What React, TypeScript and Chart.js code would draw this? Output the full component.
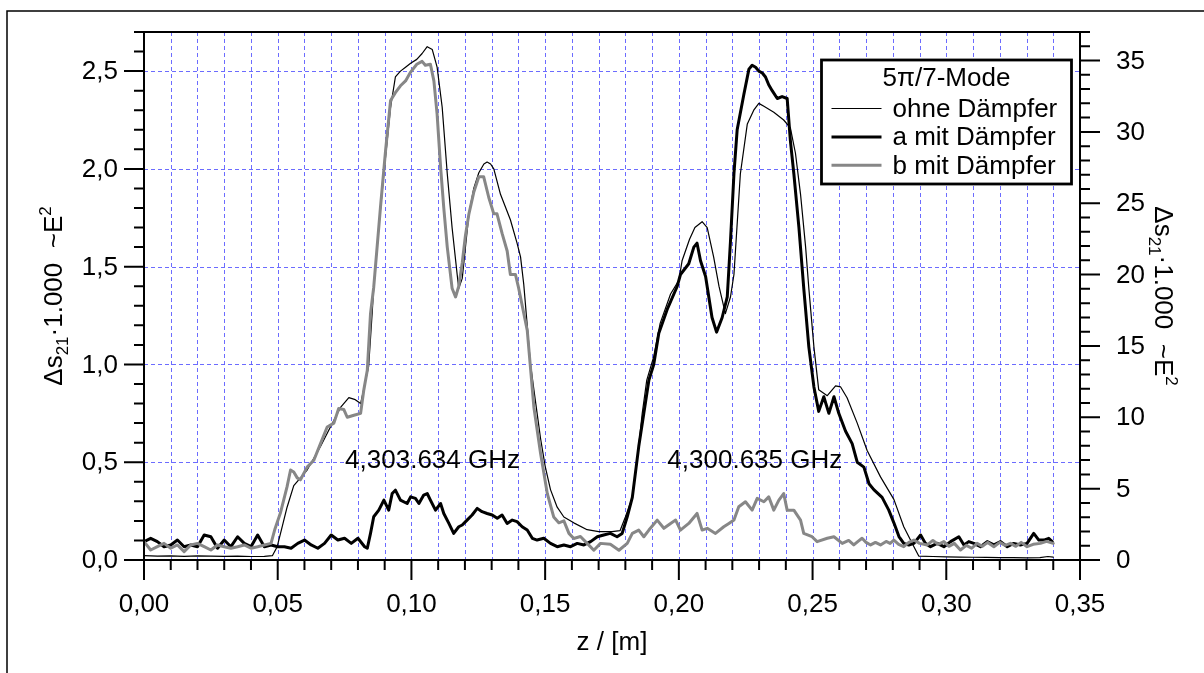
import React, { useEffect, useRef } from "react";
import { Chart, registerables } from "chart.js";

Chart.register(...registerables);

// ---------------- data (z in m, values in left-axis units) ----------------
const ohneZ = [0, 0.005, 0.01, 0.015, 0.02, 0.025, 0.03, 0.035, 0.04, 0.045, 0.048, 0.0498, 0.0515, 0.0535, 0.056, 0.061, 0.066, 0.0697, 0.0735, 0.0766, 0.079, 0.081, 0.084, 0.0853, 0.0859, 0.0878, 0.0897, 0.0922, 0.094, 0.0959, 0.0978, 0.0997, 0.102, 0.104, 0.1059, 0.1078, 0.1096, 0.1115, 0.1134, 0.1152, 0.1171, 0.1177, 0.119, 0.1202, 0.1215, 0.1233, 0.1252, 0.1271, 0.1283, 0.1296, 0.1308, 0.1333, 0.137, 0.1395, 0.1408, 0.142, 0.1433, 0.1445, 0.1458, 0.147, 0.1483, 0.15, 0.152, 0.1545, 0.157, 0.1607, 0.1657, 0.17, 0.175, 0.178, 0.18, 0.1826, 0.1844, 0.1863, 0.188, 0.1906, 0.193, 0.1969, 0.2, 0.2012, 0.204, 0.206, 0.2087, 0.2106, 0.213, 0.215, 0.2174, 0.2193, 0.2206, 0.223, 0.2256, 0.228, 0.2299, 0.2318, 0.2355, 0.2392, 0.2417, 0.2436, 0.2455, 0.2474, 0.2486, 0.2505, 0.2523, 0.2555, 0.2586, 0.2605, 0.2629, 0.2667, 0.2704, 0.2754, 0.2804, 0.2841, 0.2879, 0.2897, 0.295, 0.3, 0.305, 0.31, 0.315, 0.32, 0.325, 0.33, 0.335, 0.338, 0.34];
const ohneV = [0.022, 0.02, 0.021, 0.019, 0.021, 0.02, 0.019, 0.02, 0.018, 0.019, 0.022, 0.068, 0.16, 0.27, 0.38, 0.46, 0.58, 0.68, 0.78, 0.83, 0.82, 0.8, 0.99, 1.26, 1.39, 1.7, 1.975, 2.315, 2.47, 2.5, 2.52, 2.54, 2.56, 2.59, 2.625, 2.61, 2.52, 2.315, 1.975, 1.7, 1.46, 1.39, 1.44, 1.6, 1.77, 1.9, 1.98, 2.025, 2.035, 2.025, 2.0, 1.87, 1.74, 1.62, 1.55, 1.41, 1.2, 1.005, 0.87, 0.75, 0.62, 0.48, 0.36, 0.27, 0.22, 0.19, 0.155, 0.145, 0.145, 0.15, 0.22, 0.32, 0.51, 0.75, 0.92, 1.04, 1.21, 1.36, 1.43, 1.53, 1.64, 1.7, 1.73, 1.7, 1.55, 1.4, 1.26, 1.345, 1.46, 1.975, 2.23, 2.3, 2.335, 2.32, 2.29, 2.25, 2.21, 2.08, 1.87, 1.6, 1.39, 1.09, 0.87, 0.84, 0.89, 0.885, 0.83, 0.7, 0.56, 0.425, 0.31, 0.17, 0.068, 0.02, 0.018, 0.016, 0.015, 0.014, 0.013, 0.012, 0.012, 0.011, 0.012, 0.018, 0.015];

const aZ = [0, 0.0025, 0.005, 0.0075, 0.01, 0.0125, 0.015, 0.0175, 0.02, 0.0225, 0.025, 0.0275, 0.03, 0.0325, 0.035, 0.0375, 0.04, 0.0425, 0.045, 0.0475, 0.05, 0.0525, 0.055, 0.0575, 0.06, 0.0625, 0.065, 0.0675, 0.07, 0.0725, 0.075, 0.0775, 0.08, 0.0825, 0.0835, 0.0847, 0.0859, 0.0878, 0.0897, 0.0915, 0.0928, 0.094, 0.0959, 0.0984, 0.0997, 0.1015, 0.1028, 0.1046, 0.1059, 0.1071, 0.109, 0.1109, 0.1121, 0.114, 0.1158, 0.1177, 0.119, 0.1208, 0.1227, 0.1246, 0.1264, 0.1283, 0.1302, 0.1321, 0.1339, 0.1358, 0.1377, 0.1395, 0.1414, 0.1433, 0.1452, 0.147, 0.1495, 0.152, 0.1545, 0.157, 0.1595, 0.162, 0.1645, 0.167, 0.1695, 0.1719, 0.1744, 0.1769, 0.1788, 0.1807, 0.1826, 0.185, 0.1869, 0.1888, 0.1906, 0.1925, 0.1956, 0.1994, 0.2006, 0.2037, 0.2056, 0.2068, 0.2081, 0.21, 0.2124, 0.2141, 0.2162, 0.2181, 0.2193, 0.2206, 0.2218, 0.2243, 0.2262, 0.2274, 0.2287, 0.2299, 0.2312, 0.2324, 0.2336, 0.2349, 0.2368, 0.2386, 0.2405, 0.2417, 0.243, 0.2449, 0.2467, 0.2486, 0.2505, 0.2523, 0.2542, 0.2561, 0.258, 0.2598, 0.2623, 0.2648, 0.2667, 0.2692, 0.2711, 0.2729, 0.276, 0.2785, 0.2804, 0.2823, 0.2841, 0.286, 0.2879, 0.2904, 0.2922, 0.2941, 0.2966, 0.2991, 0.3016, 0.3047, 0.3066, 0.3084, 0.3103, 0.3128, 0.3153, 0.3178, 0.3203, 0.3228, 0.3252, 0.3277, 0.3302, 0.3327, 0.3346, 0.3365, 0.3383, 0.3396];
const aV = [0.094, 0.111, 0.094, 0.068, 0.077, 0.102, 0.068, 0.077, 0.068, 0.128, 0.119, 0.06, 0.102, 0.068, 0.119, 0.085, 0.068, 0.128, 0.068, 0.077, 0.068, 0.068, 0.06, 0.085, 0.102, 0.077, 0.06, 0.085, 0.128, 0.102, 0.111, 0.085, 0.111, 0.068, 0.06, 0.136, 0.221, 0.255, 0.306, 0.255, 0.34, 0.357, 0.306, 0.289, 0.323, 0.315, 0.289, 0.332, 0.34, 0.306, 0.255, 0.289, 0.238, 0.187, 0.136, 0.17, 0.179, 0.204, 0.23, 0.264, 0.247, 0.238, 0.23, 0.213, 0.23, 0.187, 0.204, 0.196, 0.17, 0.153, 0.111, 0.102, 0.111, 0.085, 0.068, 0.077, 0.068, 0.085, 0.077, 0.094, 0.119, 0.128, 0.136, 0.119, 0.136, 0.221, 0.32, 0.58, 0.75, 0.92, 1.0, 1.16, 1.28, 1.4, 1.46, 1.515, 1.6, 1.62, 1.53, 1.45, 1.24, 1.165, 1.24, 1.345, 1.63, 1.975, 2.2, 2.38, 2.51, 2.53, 2.52, 2.5, 2.49, 2.47, 2.43, 2.4, 2.36, 2.37, 2.36, 2.145, 1.975, 1.7, 1.39, 1.09, 0.885, 0.76, 0.835, 0.75, 0.835, 0.75, 0.66, 0.595, 0.5, 0.475, 0.39, 0.36, 0.32, 0.255, 0.19, 0.12, 0.085, 0.077, 0.085, 0.128, 0.085, 0.068, 0.085, 0.068, 0.094, 0.119, 0.077, 0.094, 0.085, 0.068, 0.094, 0.077, 0.094, 0.068, 0.085, 0.077, 0.085, 0.136, 0.102, 0.102, 0.111, 0.094];

const bZ = [0, 0.0025, 0.005, 0.0075, 0.01, 0.0125, 0.015, 0.0175, 0.02, 0.0225, 0.025, 0.0275, 0.03, 0.0325, 0.035, 0.0375, 0.04, 0.0425, 0.045, 0.0475, 0.049, 0.051, 0.0535, 0.0548, 0.056, 0.0573, 0.0585, 0.061, 0.0635, 0.066, 0.0685, 0.071, 0.0728, 0.0747, 0.076, 0.0785, 0.081, 0.0822, 0.0835, 0.0847, 0.0859, 0.0884, 0.0903, 0.0922, 0.094, 0.0959, 0.0978, 0.0997, 0.102, 0.104, 0.1052, 0.1071, 0.1084, 0.1096, 0.1109, 0.1121, 0.1134, 0.1152, 0.1165, 0.1177, 0.119, 0.1202, 0.1215, 0.1233, 0.1252, 0.127, 0.1289, 0.1308, 0.132, 0.1339, 0.1358, 0.137, 0.1389, 0.1401, 0.1433, 0.1458, 0.1483, 0.1508, 0.1532, 0.1551, 0.157, 0.1589, 0.1607, 0.1632, 0.1657, 0.1682, 0.1707, 0.1744, 0.1776, 0.1807, 0.1826, 0.185, 0.1869, 0.1888, 0.1919, 0.1944, 0.1969, 0.1988, 0.2006, 0.2037, 0.2068, 0.2087, 0.2106, 0.2137, 0.2168, 0.2187, 0.2206, 0.2224, 0.2249, 0.2274, 0.2293, 0.2318, 0.2336, 0.2355, 0.2374, 0.2392, 0.2405, 0.243, 0.2455, 0.2467, 0.2498, 0.2517, 0.2555, 0.258, 0.2611, 0.2635, 0.2654, 0.267, 0.2685, 0.27, 0.2717, 0.2735, 0.2754, 0.2775, 0.279, 0.2804, 0.2822, 0.2841, 0.286, 0.2879, 0.29, 0.2929, 0.295, 0.297, 0.2991, 0.301, 0.303, 0.3053, 0.3075, 0.3095, 0.3115, 0.3135, 0.3155, 0.3178, 0.32, 0.322, 0.324, 0.326, 0.328, 0.3302, 0.3325, 0.3352, 0.3375, 0.34];
const bV = [0.094, 0.051, 0.068, 0.085, 0.06, 0.077, 0.043, 0.077, 0.085, 0.068, 0.051, 0.077, 0.068, 0.06, 0.068, 0.077, 0.06, 0.068, 0.077, 0.085, 0.16, 0.24, 0.375, 0.46, 0.45, 0.42, 0.41, 0.475, 0.51, 0.595, 0.68, 0.7, 0.775, 0.77, 0.73, 0.74, 0.75, 0.87, 0.97, 1.26, 1.395, 1.8, 2.09, 2.35, 2.39, 2.425, 2.45, 2.495, 2.535, 2.55, 2.53, 2.535, 2.45, 2.28, 2.01, 1.8, 1.6, 1.39, 1.345, 1.4, 1.52, 1.66, 1.77, 1.88, 1.96, 1.96, 1.855, 1.77, 1.77, 1.67, 1.58, 1.46, 1.46, 1.39, 1.175, 0.78, 0.545, 0.34, 0.22, 0.19, 0.2, 0.136, 0.11, 0.12, 0.085, 0.05, 0.085, 0.08, 0.05, 0.085, 0.136, 0.153, 0.119, 0.153, 0.204, 0.162, 0.187, 0.204, 0.153, 0.187, 0.238, 0.153, 0.162, 0.136, 0.17, 0.187, 0.204, 0.272, 0.298, 0.255, 0.315, 0.298, 0.323, 0.255, 0.306, 0.34, 0.255, 0.255, 0.204, 0.136, 0.119, 0.094, 0.111, 0.119, 0.085, 0.1, 0.077, 0.095, 0.111, 0.09, 0.077, 0.09, 0.077, 0.095, 0.085, 0.102, 0.08, 0.068, 0.09, 0.102, 0.085, 0.077, 0.1, 0.08, 0.094, 0.07, 0.085, 0.051, 0.075, 0.06, 0.085, 0.07, 0.09, 0.068, 0.09, 0.075, 0.085, 0.07, 0.09, 0.068, 0.08, 0.085, 0.095, 0.085];

const seriesLabels = ["ohne Dämpfer", "a mit Dämpfer", "b mit Dämpfer"];
const legendTitle = "5π/7-Mode";

const xTickValues = [0, 0.05, 0.1, 0.15, 0.2, 0.25, 0.3, 0.35];
const yTickValues = [0, 0.5, 1.0, 1.5, 2.0, 2.5];
const y1TickValues = [0, 5, 10, 15, 20, 25, 30, 35];
const xTitle = "z / [m]";
const yTitleParts = [
  { text: "Δs", sub: 0 },
  { text: "21", sub: 1 },
  { text: "·1.000  ~E", sub: 0 },
  { text: "2", sub: -1 },
];
const annotationTexts = ["4,303.634 GHz", "4,300.635 GHz"];
const annotationZ = [0.1079, 0.2284];
const annotationV = [0.47, 0.47];

// ---------------- styling ----------------
const FF = "'Liberation Sans', Arial, Helvetica, sans-serif";
const FS = 26;
const GRID = "rgba(92, 92, 255, 0.9)";

function pts(zs: number[], vs: number[]) {
  return zs.map((z, i) => ({ x: z, y: vs[i] }));
}

function drawRich(ctx: CanvasRenderingContext2D, x: number, y: number, angle: number) {
  ctx.save();
  ctx.translate(x, y);
  ctx.rotate(angle);
  const sized = yTitleParts.map((p) => ({ ...p, size: p.sub === 0 ? FS : 17 }));
  let total = 0;
  for (const p of sized) {
    ctx.font = `${p.size}px ${FF}`;
    total += ctx.measureText(p.text).width;
  }
  let cx = -total / 2;
  ctx.textAlign = "left";
  ctx.textBaseline = "alphabetic";
  ctx.fillStyle = "#000";
  for (const p of sized) {
    ctx.font = `${p.size}px ${FF}`;
    const dy = p.sub === 1 ? 6 : p.sub === -1 ? -11 : 0;
    ctx.fillText(p.text, cx, dy);
    cx += ctx.measureText(p.text).width;
  }
  ctx.restore();
}

const fmt = (v: number, d: number) => v.toFixed(d).replace(".", ",");

const customPlugin = {
  id: "customDraw",
  beforeDatasetsDraw(chart: any) {
    const { ctx, chartArea: ca, scales } = chart;
    const xs = scales.x;
    const ys = scales.y;
    ctx.save();
    ctx.strokeStyle = GRID;
    ctx.lineWidth = 1;
    ctx.setLineDash([4, 3]);
    for (let i = 1; i < 35; i++) {
      const px = Math.round(xs.getPixelForValue(i / 100)) + 0.5;
      ctx.beginPath();
      ctx.moveTo(px, ca.top);
      ctx.lineTo(px, ca.bottom);
      ctx.stroke();
    }
    for (let i = 1; i <= 5; i++) {
      const py = Math.round(ys.getPixelForValue(i * 0.5)) + 0.5;
      ctx.beginPath();
      ctx.moveTo(ca.left, py);
      ctx.lineTo(ca.right, py);
      ctx.stroke();
    }
    ctx.restore();
  },
  afterDraw(chart: any) {
    const { ctx, chartArea: ca, scales } = chart;
    const xs = scales.x;
    const ys = scales.y;
    const y1s = scales.y1;
    ctx.save();
    ctx.setLineDash([]);
    ctx.strokeStyle = "#000";
    ctx.fillStyle = "#000";

    // outer frame (left and top visible)
    ctx.lineWidth = 1.5;
    ctx.beginPath();
    ctx.moveTo(7, chart.height);
    ctx.lineTo(7, 11);
    ctx.lineTo(chart.width, 11);
    ctx.stroke();

    // axis frame
    ctx.lineWidth = 2;
    ctx.beginPath();
    ctx.moveTo(ca.left, ca.bottom);
    ctx.lineTo(ca.left, ca.top);
    ctx.lineTo(ca.right, ca.top);
    ctx.lineTo(ca.right, ca.bottom);
    ctx.lineTo(ca.left, ca.bottom);
    ctx.stroke();

    // ticks
    ctx.beginPath();
    for (let i = 0; i <= 27; i++) {
      const py = ys.getPixelForValue(i / 10);
      const len = i % 5 === 0 ? 20 : 10;
      ctx.moveTo(ca.left - len, py);
      ctx.lineTo(ca.left, py);
    }
    for (let i = 0; i <= 37; i++) {
      const py = y1s.getPixelForValue(i);
      const len = i % 5 === 0 ? 20 : 10;
      ctx.moveTo(ca.right, py);
      ctx.lineTo(ca.right + len, py);
    }
    for (let i = 0; i <= 35; i++) {
      const px = xs.getPixelForValue(i / 100);
      const len = i % 5 === 0 ? 20 : 10;
      ctx.moveTo(px, ca.bottom);
      ctx.lineTo(px, ca.bottom + len);
    }
    ctx.stroke();

    // tick labels
    ctx.font = `${FS}px ${FF}`;
    ctx.textBaseline = "middle";
    ctx.textAlign = "right";
    for (const v of yTickValues) ctx.fillText(fmt(v, 1), ca.left - 26, ys.getPixelForValue(v) + 1);
    ctx.textAlign = "left";
    for (const v of y1TickValues) ctx.fillText(String(v), ca.right + 36, y1s.getPixelForValue(v) + 1);
    ctx.textAlign = "center";
    ctx.textBaseline = "alphabetic";
    for (const v of xTickValues) ctx.fillText(fmt(v, 2), xs.getPixelForValue(v), ca.bottom + 52);

    // axis titles
    ctx.fillText(xTitle, (ca.left + ca.right) / 2, ca.bottom + 90);
    const midY = (ca.top + ca.bottom) / 2;
    drawRich(ctx, 62, midY, -Math.PI / 2);
    drawRich(ctx, ca.right + 75, midY, Math.PI / 2);

    // annotations
    ctx.font = `${FS}px ${FF}`;
    ctx.textAlign = "center";
    ctx.textBaseline = "alphabetic";
    annotationTexts.forEach((t, i) => {
      ctx.fillText(t, xs.getPixelForValue(annotationZ[i]), ys.getPixelForValue(annotationV[i]));
    });

    // legend
    const lx = 821.5, ly = 60, lw = 250, lh = 124;
    ctx.fillStyle = "#fff";
    ctx.fillRect(lx, ly, lw, lh);
    ctx.lineWidth = 2.8;
    ctx.strokeStyle = "#000";
    ctx.strokeRect(lx, ly, lw, lh);
    ctx.fillStyle = "#000";
    ctx.textAlign = "center";
    ctx.fillText(legendTitle, lx + lw / 2, ly + 26);
    chart.data.datasets.forEach((ds: any, i: number) => {
      const rowY = ly + 48.5 + i * 28.4;
      ctx.strokeStyle = ds.borderColor;
      ctx.lineWidth = ds.borderWidth;
      ctx.beginPath();
      ctx.moveTo(lx + 10, rowY);
      ctx.lineTo(lx + 60, rowY);
      ctx.stroke();
      ctx.fillStyle = "#000";
      ctx.textAlign = "left";
      ctx.fillText(ds.label, lx + 71, rowY + 8.5);
    });
    ctx.restore();
  },
};

export default function App() {
  const canvasRef = useRef<HTMLCanvasElement | null>(null);

  useEffect(() => {
    const canvas = canvasRef.current;
    if (!canvas) return;
    const chart = new Chart(canvas, {
      type: "line",
      data: {
        datasets: [
          {
            label: seriesLabels[0],
            data: pts(ohneZ, ohneV),
            borderColor: "#000000",
            borderWidth: 1.2,
            order: 3,
            yAxisID: "y",
          },
          {
            label: seriesLabels[1],
            data: pts(aZ, aV),
            borderColor: "#000000",
            borderWidth: 3,
            order: 2,
            yAxisID: "y",
          },
          {
            label: seriesLabels[2],
            data: pts(bZ, bV),
            borderColor: "#878787",
            borderWidth: 3,
            order: 1,
            yAxisID: "y",
          },
        ],
      },
      options: {
        responsive: false,
        animation: false,
        devicePixelRatio: 1,
        parsing: true,
        layout: { padding: { top: 32, left: 0, right: 0, bottom: 0 } },
        elements: {
          point: { radius: 0, hoverRadius: 0 },
          line: { tension: 0, borderJoinStyle: "round", borderCapStyle: "round", fill: false },
        },
        plugins: { legend: { display: false }, tooltip: { enabled: false }, title: { display: false } },
        scales: {
          x: {
            type: "linear",
            position: "bottom",
            min: 0,
            max: 0.35,
            grid: { display: false },
            border: { display: false },
            ticks: { display: false },
            afterFit: (s: any) => {
              s.height = 113;
            },
          },
          y: {
            type: "linear",
            position: "left",
            min: 0,
            max: 2.7,
            grid: { display: false },
            border: { display: false },
            ticks: { display: false },
            afterFit: (s: any) => {
              s.width = 144;
            },
          },
          y1: {
            type: "linear",
            position: "right",
            min: 0,
            max: 37,
            grid: { display: false },
            border: { display: false },
            ticks: { display: false },
            afterFit: (s: any) => {
              s.width = 124;
            },
          },
        },
      } as any,
      plugins: [customPlugin],
    });
    return () => chart.destroy();
  }, []);

  return (
    <div style={{ position: "absolute", left: 0, top: 0, width: 1204, height: 673, background: "#fff" }}>
      <canvas ref={canvasRef} width={1204} height={673} style={{ display: "block", width: 1204, height: 673 }} />
    </div>
  );
}
